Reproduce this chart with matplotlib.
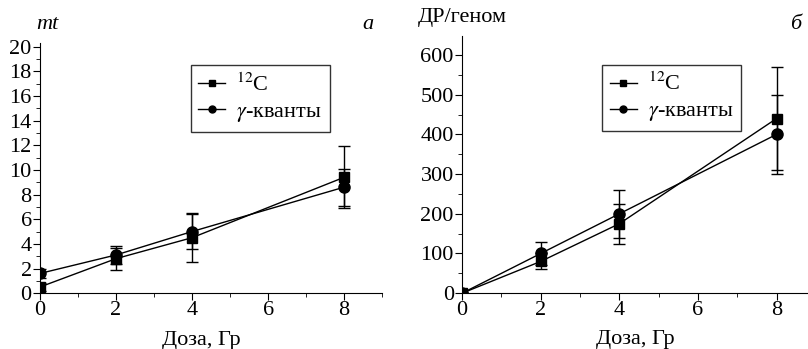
import numpy as np
import matplotlib.pyplot as plt
from matplotlib.lines import Line2D
from matplotlib.ticker import MultipleLocator

plt.rcParams["font.family"] = ["Liberation Serif", "DejaVu Serif"]
plt.rcParams["mathtext.fontset"] = "stix"

dose = [0, 2, 4, 8]

# panel a: mt
mt_c12 = [0.5, 2.8, 4.5, 9.4]
mt_c12_err = [0.3, 0.9, 2.0, 2.5]
mt_gamma = [1.6, 3.1, 5.0, 8.6]
mt_gamma_err = [0.4, 0.7, 1.4, 1.5]

# panel b: DSB per genome
dsb_c12 = [0, 80, 175, 440]
dsb_c12_err = [0, 20, 50, 130]
dsb_gamma = [0, 100, 200, 400]
dsb_gamma_err = [0, 30, 60, 100]

labels = ["$^{12}$C", "$\\gamma$-кванты"]

fig = plt.figure(figsize=(8.08, 3.49), dpi=100)
ax1 = fig.add_axes([0.0495, 0.160, 0.4235, 0.717])
ax2 = fig.add_axes([0.572, 0.160, 0.428, 0.737])


def draw(ax, y1, e1, y2, e2, anchor):
    ax.errorbar(dose, y1, yerr=e1, color="black", marker="s", ms=7.5, lw=1,
                capsize=4, elinewidth=1, capthick=1)
    ax.errorbar(dose, y2, yerr=e2, color="black", marker="o", ms=8, lw=1,
                capsize=4, elinewidth=1, capthick=1)
    for s in ["top", "right"]:
        ax.spines[s].set_visible(False)
    ax.xaxis.set_major_locator(MultipleLocator(2))
    ax.xaxis.set_minor_locator(MultipleLocator(1))
    ax.tick_params(which="major", length=5, labelsize=16, pad=1)
    ax.tick_params(which="minor", length=3)
    ax.set_xlabel("Доза, Гр", fontsize=16, labelpad=7)
    handles = [
        Line2D([], [], color="black", lw=1, marker="s", ms=5),
        Line2D([], [], color="black", lw=1, marker="o", ms=5),
    ]
    leg = ax.legend(handles, labels, loc="upper left",
                    bbox_to_anchor=anchor, fontsize=16,
                    frameon=True, fancybox=False, edgecolor="black",
                    handlelength=1.2, borderpad=0.35, labelspacing=0.25,
                    handletextpad=0.5, borderaxespad=0)
    leg.get_frame().set_linewidth(1)


draw(ax1, mt_c12, mt_c12_err, mt_gamma, mt_gamma_err, (0.44, 0.91))
ax1.set_xlim(0, 9)
ax1.set_ylim(0, 20.3)
ax1.yaxis.set_major_locator(MultipleLocator(2))
ax1.yaxis.set_minor_locator(MultipleLocator(1))
ax1.xaxis.set_label_coords(0.47, -0.152)
fig.text(0.045, 0.93, "mt", fontsize=16, style="italic", ha="left", va="center")
fig.text(0.455, 0.93, "а", fontsize=16, style="italic", ha="center", va="center")

draw(ax2, dsb_c12, dsb_c12_err, dsb_gamma, dsb_gamma_err, (0.405, 0.887))
ax2.set_xlim(0, 8.8)
ax2.set_ylim(0, 648)
ax2.yaxis.set_major_locator(MultipleLocator(100))
ax2.yaxis.set_minor_locator(MultipleLocator(50))
fig.text(0.517, 0.95, "ДР/геном", fontsize=16, ha="left", va="center")
fig.text(0.985, 0.93, "б", fontsize=16, style="italic", ha="center", va="center")

fig.savefig("out.png", dpi=100)
